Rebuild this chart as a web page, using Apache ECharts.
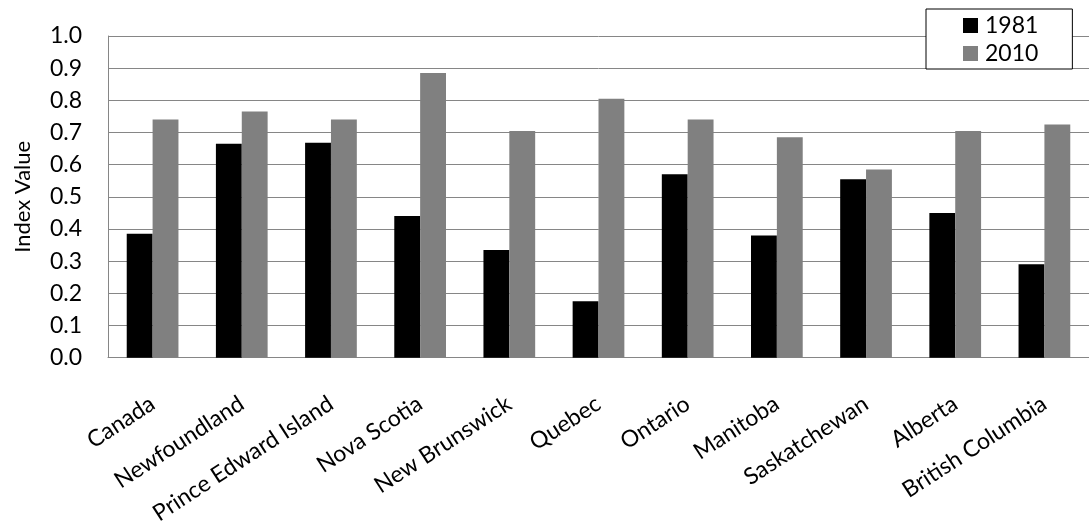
<!DOCTYPE html>
<html>
<head>
<meta charset="utf-8">
<script src="https://cdn.jsdelivr.net/npm/echarts@6/dist/echarts.min.js"></script>
<style>
html,body{margin:0;padding:0;background:#fff;}
#chart{width:1089px;height:527px;}
</style>
</head>
<body>
<div id="chart"></div>
<script>
var categories = ["Canada","Newfoundland","Prince Edward Island","Nova Scotia","New Brunswick","Quebec","Ontario","Manitoba","Saskatchewan","Alberta","British Columbia"];
var values1981 = [0.385,0.665,0.668,0.44,0.335,0.175,0.57,0.38,0.555,0.45,0.29];
var values2010 = [0.74,0.765,0.74,0.885,0.705,0.805,0.74,0.685,0.585,0.705,0.725];
var seriesNames = ["1981","2010"];
var yAxisTitle = "Index Value";

var FONT = "Lato";
var chart = echarts.init(document.getElementById('chart'), null, {renderer:'canvas'});
chart.setOption({
  animation:false,
  backgroundColor:'#ffffff',
  textStyle:{fontFamily:FONT},
  grid:{left:108, right:0, top:36, bottom:168, containLabel:false},
  legend:{
    orient:'vertical', left:926, top:9,
    padding:[5,34,4,37],
    borderColor:'#000', borderWidth:1,
    backgroundColor:'#fff',
    itemWidth:15, itemHeight:15, itemGap:5,
    icon:'rect',
    textStyle:{fontSize:23, color:'#000', fontFamily:FONT, padding:[0,0,0,2]},
    data:seriesNames
  },
  xAxis:{
    type:'category', data:categories,
    axisLine:{lineStyle:{color:'#868686', width:1}},
    axisTick:{show:false},
    axisLabel:{rotate:33, margin:44, fontSize:23, color:'#000', fontFamily:FONT, interval:0}
  },
  yAxis:{
    type:'value', min:0, max:1, interval:0.1,
    name:yAxisTitle, nameLocation:'middle', nameGap:74,
    nameTextStyle:{fontSize:22, color:'#000', fontFamily:FONT},
    axisLine:{show:true, lineStyle:{color:'#868686', width:1}},
    axisTick:{show:false},
    axisLabel:{margin:26, fontSize:23, color:'#000', fontFamily:FONT, formatter:function(v){return v.toFixed(1);}},
    splitLine:{lineStyle:{color:'#868686', width:1}}
  },
  series:[
    {name:seriesNames[0], type:'bar', data:values1981, itemStyle:{color:'#000000'}, barGap:'0%', barCategoryGap:'42%'},
    {name:seriesNames[1], type:'bar', data:values2010, itemStyle:{color:'#808080'}, barGap:'0%', barCategoryGap:'42%'}
  ]
});
</script>
</body>
</html>
